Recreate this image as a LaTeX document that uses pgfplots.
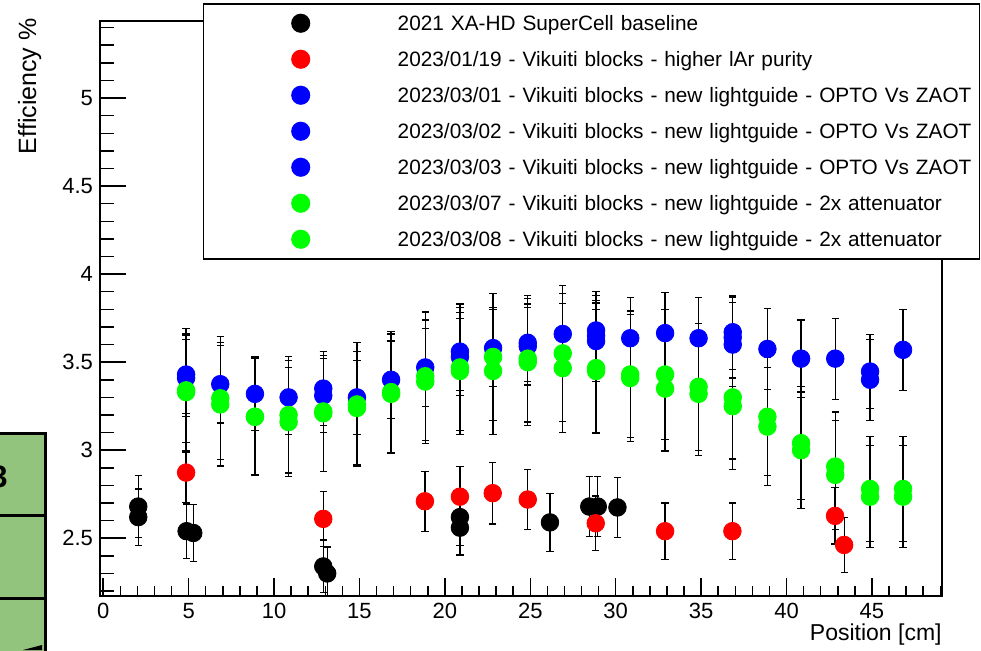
\documentclass[border=0pt]{standalone}
\usepackage{fontspec}
\setmainfont{Liberation Sans}
\usepackage{pgfplots}
\pgfplotsset{compat=1.18}
\definecolor{rootgreen}{RGB}{0,255,0}
\definecolor{rootred}{RGB}{255,0,0}
\definecolor{rootblue}{RGB}{0,0,255}
\definecolor{slidegreen}{RGB}{147,196,125}

\pgfplotsset{
  rootpts/.style={only marks, mark=*, mark size=4.4pt,
    color=#1, mark options={draw=#1, fill=#1},
    error bars/.cd, y dir=both, y explicit,
    error bar style={black, line width=0.6pt},
    error mark options={rotate=90, black, mark size=1.8pt, line width=0.6pt}},
}

\begin{document}
\begin{tikzpicture}
\useasboundingbox (0,0) rectangle (490.5pt,325pt);
% fragment of the slide at the left edge
\fill[slidegreen] (-5pt,-5pt) rectangle (22.5pt,108.5pt);
\draw[line width=1.5pt] (-5pt,108.5pt) -- (22.5pt,108.5pt) -- (22.5pt,-5pt);
\draw[line width=1.5pt] (-5pt,67.5pt) -- (22.5pt,67.5pt);
\draw[line width=1.5pt] (-5pt,26pt) -- (22.5pt,26pt);
\node[anchor=base east, inner sep=0pt, font=\fontsize{15.5}{16}\selectfont\bfseries] at (4pt,81.5pt) {3};
\fill (11.5pt,0pt) -- (21pt,2.5pt) -- (21pt,0pt) -- cycle;

\begin{axis}[
  at={(50pt,27pt)}, anchor=south west,
  scale only axis, width=421pt, height=287.5pt,
  xmin=-0.19, xmax=49.1, ymin=2.172, ymax=5.4375,
  axis line style={line width=0.75pt},
  tick align=inside, xtick pos=bottom, ytick pos=left,
  xtick={0,5,...,45}, minor xtick={1,2,...,49},
  ytick={2.5,3,3.5,4,4.5,5},
  minor ytick={2.2,2.3,2.4,2.6,2.7,2.8,2.9,3.1,3.2,3.3,3.4,3.6,3.7,3.8,3.9,4.1,4.2,4.3,4.4,4.6,4.7,4.8,4.9,5.1,5.2,5.3,5.4},
  xtick style={black, line width=0.75pt, /pgfplots/major tick length=9pt, /pgfplots/minor tick length=5pt},
  ytick style={black, line width=0.75pt, /pgfplots/major tick length=13pt, /pgfplots/minor tick length=7pt},
  ticklabel style={font=\fontsize{11}{13}\selectfont},
  /pgf/number format/assume math mode=true,
  xlabel={Position [cm]},
  xlabel style={at={(axis description cs:1,-0.048)}, anchor=north east, inner sep=0pt, font=\fontsize{11.5}{13}\selectfont},
  ylabel={Efficiency \%},
  ylabel style={at={(axis description cs:-0.076,1.0052)}, anchor=base east, inner sep=0pt, font=\fontsize{12.5}{14}\selectfont},
  legend cell align=left,
  legend image code/.code={\path[draw=none,fill=none] (-48.5pt,-5pt) (48.5pt,5pt); \draw[#1] plot coordinates {(0pt,0pt)};},
  legend style={at={(axis description cs:0.1223,1.0313)}, anchor=north west,
    draw=black, fill=white, line width=0.75pt,
    inner xsep=0pt, inner ysep=4.75pt, row sep=8pt, column sep=0pt,
    font=\fontsize{10.4}{12}\selectfont,
    nodes={inner xsep=0pt, inner ysep=0pt, text width=291pt, align=left, text height=8.7pt, text depth=1.3pt}},
]
% 2021 XA-HD SuperCell baseline
\addplot[rootpts=black] table[x=x, y=y, y error=e] {
x y e
2.05 2.68 0.175
2.05 2.62 0.16
4.88 2.54 0.155
5.27 2.53 0.16
12.88 2.34 0.15
13.11 2.30 0.15
20.88 2.62 0.16
20.88 2.56 0.155
26.15 2.59 0.165
28.45 2.68 0.17
28.95 2.68 0.17
30.10 2.675 0.17
};
\addlegendentry{2021 XA-HD SuperCell baseline}
% 2023/01/19
\addplot[rootpts=rootred] table[x=x, y=y, y error=e] {
x y e
4.85 2.873 0.17
12.88 2.61 0.155
18.83 2.71 0.17
20.88 2.736 0.17
22.80 2.756 0.175
24.85 2.72 0.17
28.83 2.585 0.155
32.89 2.54 0.16
36.83 2.54 0.16
42.84 2.627 0.16
43.37 2.462 0.155
};
\addlegendentry{2023/01/19 - Vikuiti blocks - higher lAr purity}
% 2023/03/01
\addplot[rootpts=rootblue] table[x=x, y=y, y error=e] {
x y e
4.85 3.43 0.22
6.85 3.375 0.22
8.88 3.32 0.21
10.85 3.30 0.21
12.88 3.35 0.21
14.85 3.30 0.21
16.85 3.40 0.22
18.85 3.47 0.22
20.88 3.56 0.22
22.82 3.58 0.22
24.85 3.61 0.22
26.90 3.66 0.23
28.85 3.68 0.22
30.85 3.636 0.23
32.89 3.665 0.23
34.85 3.636 0.23
36.85 3.67 0.21
38.88 3.575 0.23
40.85 3.52 0.22
42.85 3.52 0.23
44.89 3.447 0.21
46.82 3.57 0.23
};
\addlegendentry{2023/03/01 - Vikuiti blocks - new lightguide - OPTO Vs ZAOT}
% 2023/03/02
\addplot[rootpts=rootblue] table[x=x, y=y, y error=e] {
x y e
4.85 3.41 0.22
12.88 3.31 0.21
20.88 3.53 0.22
24.85 3.59 0.22
28.85 3.65 0.23
36.85 3.64 0.23
44.89 3.40 0.23
};
\addlegendentry{2023/03/02 - Vikuiti blocks - new lightguide - OPTO Vs ZAOT}
% 2023/03/03
\addplot[rootpts=rootblue] table[x=x, y=y, y error=e] {
x y e
28.85 3.62 0.23
36.85 3.60 0.24
};
\addlegendentry{2023/03/03 - Vikuiti blocks - new lightguide - OPTO Vs ZAOT}
% 2023/03/07
\addplot[rootpts=rootgreen] table[x=x, y=y, y error=e] {
x y e
4.85 3.34 0.35
6.85 3.295 0.35
8.88 3.19 0.335
10.85 3.20 0.33
12.88 3.22 0.34
14.85 3.26 0.35
16.85 3.33 0.345
18.85 3.42 0.365
20.88 3.47 0.36
22.82 3.53 0.36
24.85 3.52 0.36
26.90 3.55 0.385
28.85 3.466 0.37
30.85 3.43 0.36
32.89 3.43 0.37
34.85 3.36 0.36
36.85 3.30 0.35
38.88 3.19 0.335
40.85 3.04 0.32
42.85 2.907 0.31
44.89 2.78 0.30
46.82 2.78 0.30
};
\addlegendentry{2023/03/07 - Vikuiti blocks - new lightguide - 2x attenuator}
% 2023/03/08
\addplot[rootpts=rootgreen] table[x=x, y=y, y error=e] {
x y e
4.85 3.33 0.33
6.85 3.26 0.35
8.88 3.19 0.33
10.85 3.16 0.31
12.88 3.21 0.33
14.85 3.24 0.32
16.85 3.32 0.34
18.85 3.39 0.35
20.88 3.45 0.36
22.82 3.45 0.36
24.85 3.50 0.36
26.90 3.466 0.365
28.85 3.45 0.35
30.85 3.41 0.36
32.89 3.35 0.355
34.85 3.32 0.35
36.85 3.25 0.36
38.88 3.134 0.334
40.85 3.00 0.33
42.85 2.86 0.31
44.89 2.736 0.29
46.82 2.736 0.29
};
\addlegendentry{2023/03/08 - Vikuiti blocks - new lightguide - 2x attenuator}
\end{axis}
\end{tikzpicture}
\end{document}
